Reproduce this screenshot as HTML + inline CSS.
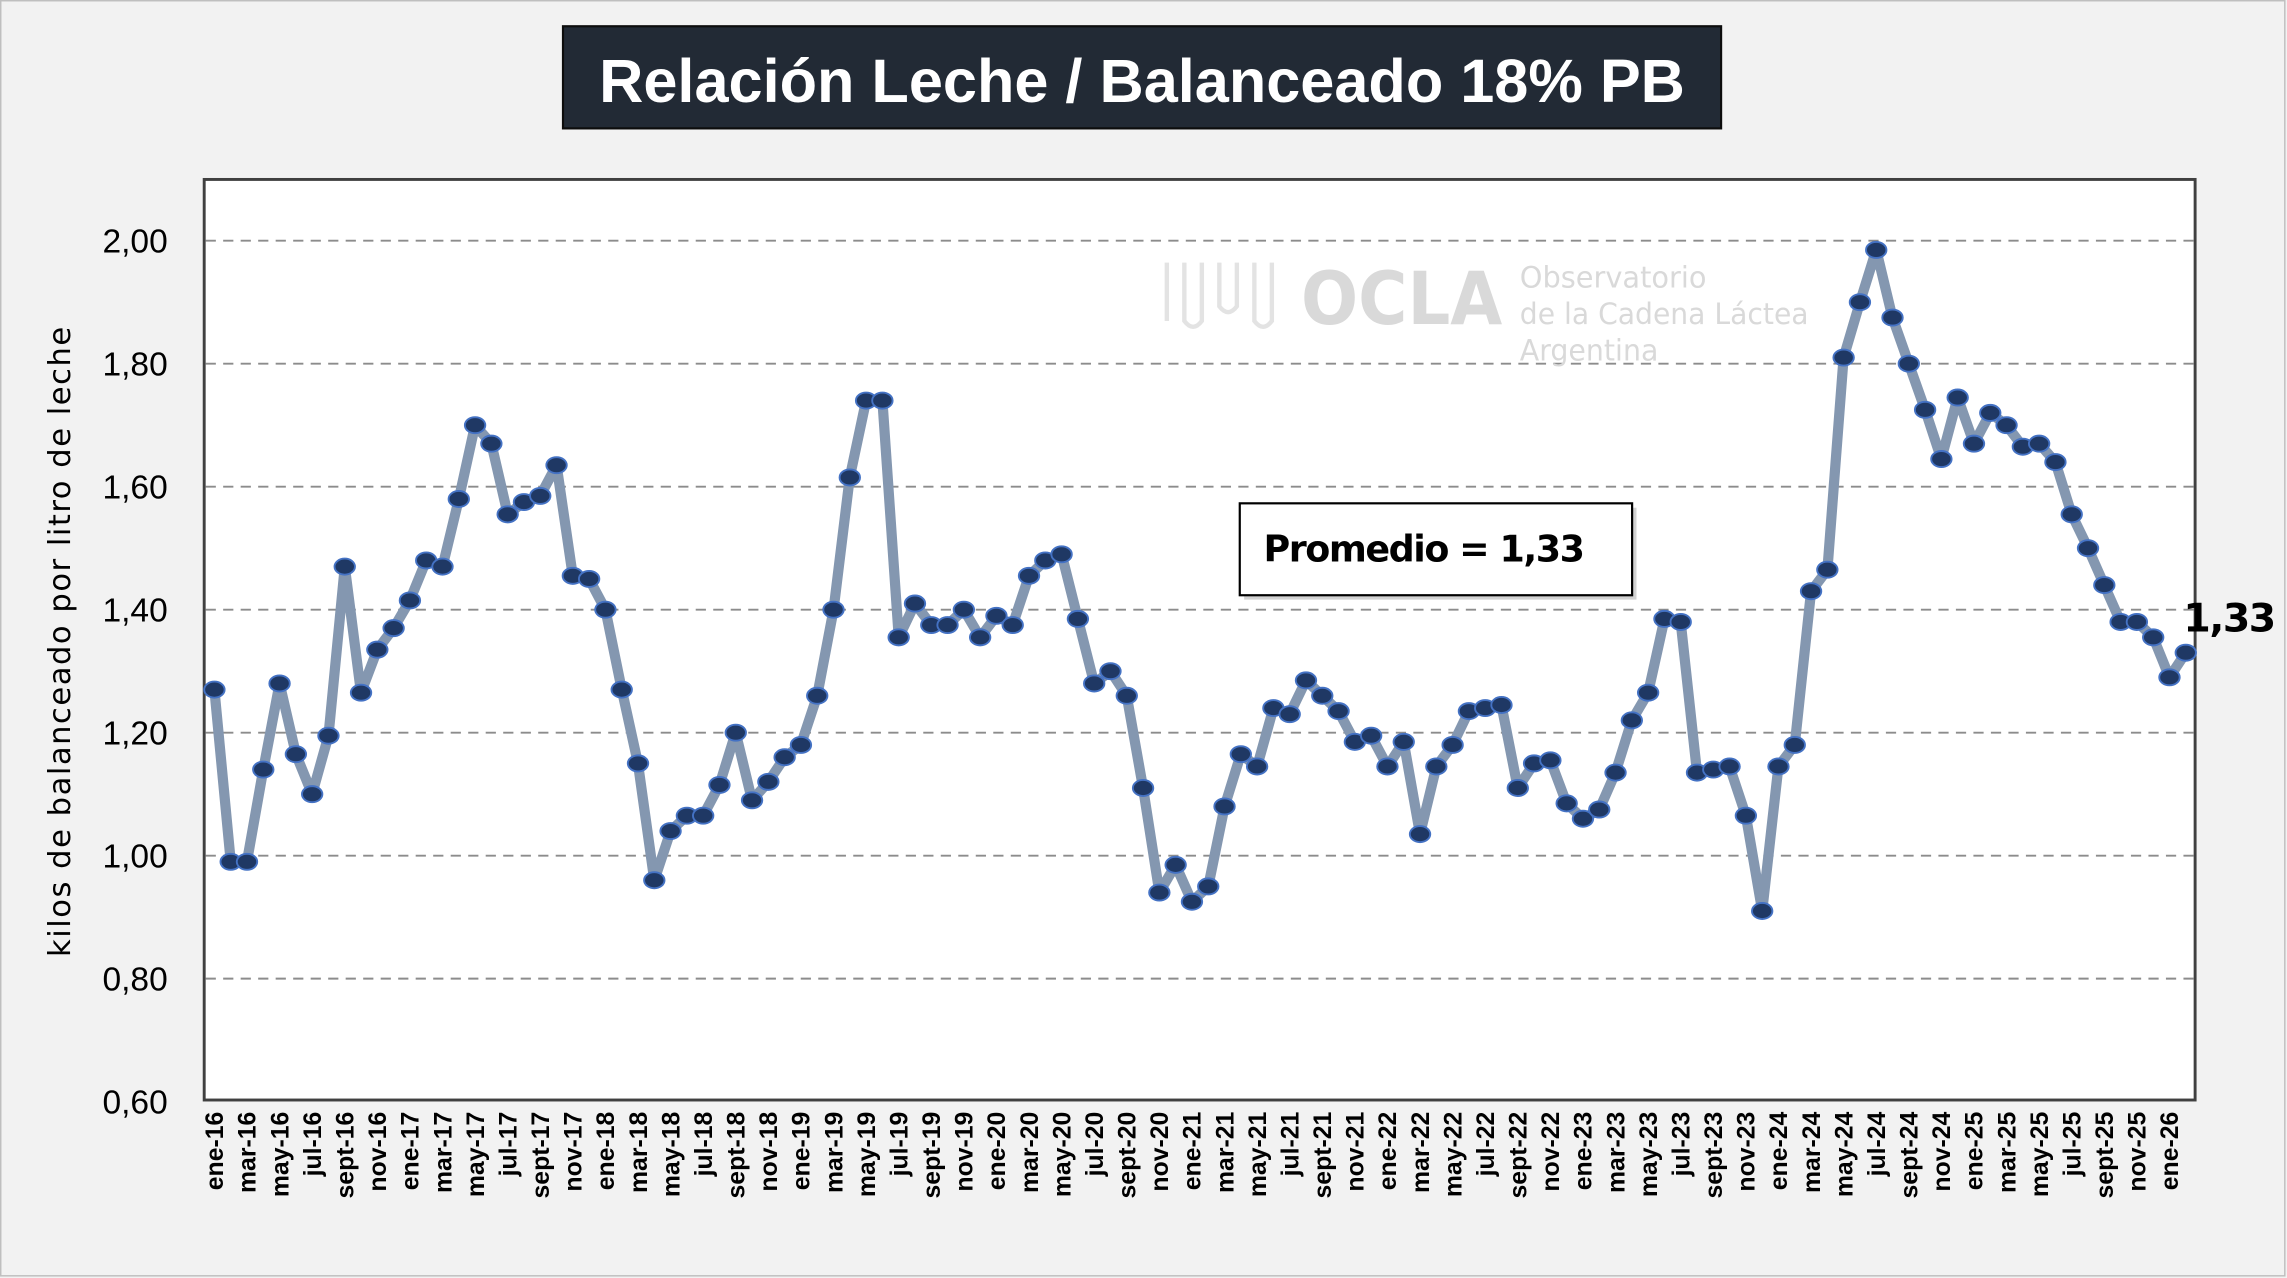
<!DOCTYPE html>
<html><head><meta charset="utf-8"><style>
html,body{margin:0;padding:0;background:#f2f2f2;}
svg{display:block;}
</style></head><body>
<svg id="chart" width="2287" height="1278" viewBox="0 0 1568 876" preserveAspectRatio="none" xmlns="http://www.w3.org/2000/svg">
  <rect x="0.5" y="0.5" width="1566" height="874" fill="#f2f2f2" stroke="#bfbfbf" stroke-width="1"/>
  <g>
    <rect x="386" y="18" width="794" height="70" fill="#222a35" stroke="#0d0d0d" stroke-width="1.5"/>
    <text x="783" y="70" text-anchor="middle" font-family="Liberation Sans, sans-serif" font-weight="bold" font-size="42" fill="#ffffff">Relación Leche / Balanceado 18% PB</text>
  </g>
  <rect x="140" y="123" width="1365" height="631" fill="#ffffff" stroke="#404040" stroke-width="2"/>
  <g id="grid"></g>
  <g fill="#d9d9d9" font-family="DejaVu Sans, sans-serif">
    <path d="M800 180 v40 M812 180 v40 q6 8 12 0 v-40 M836 180 v30 q6 8 12 0 v-30 M860 180 v40 q6 8 12 0 v-40" stroke="#e3e3e3" stroke-width="3" fill="none"/>
    <text x="892" y="222" font-size="50" font-weight="bold" textLength="138" lengthAdjust="spacingAndGlyphs">OCLA</text>
    <text x="1042" y="197" font-size="20" textLength="128" lengthAdjust="spacingAndGlyphs">Observatorio</text>
    <text x="1042" y="222" font-size="20" textLength="198" lengthAdjust="spacingAndGlyphs">de la Cadena Láctea</text>
    <text x="1042" y="247" font-size="20" textLength="95" lengthAdjust="spacingAndGlyphs">Argentina</text>
  </g>
  <g id="yticks"></g>
  <g id="xticks"></g>
  <text transform="translate(48,440) rotate(-90)" text-anchor="middle" font-family="DejaVu Sans, sans-serif" font-size="21" fill="#000" textLength="432" lengthAdjust="spacing">kilos de balanceado por litro de leche</text>
  <g id="series"></g>
  <g>
    <rect x="853" y="348" width="269" height="63" fill="#7f7f7f" opacity="0.35"/>
    <rect x="850" y="345" width="269" height="63" fill="#ffffff" stroke="#000" stroke-width="1.5"/>
    <text x="976" y="385" text-anchor="middle" font-family="DejaVu Sans, sans-serif" font-weight="bold" font-size="25" letter-spacing="-1" fill="#000">Promedio = 1,33</text>
  </g>
  <text id="lastlabel" x="1497" y="433" font-family="DejaVu Sans, sans-serif" font-weight="bold" font-size="27" letter-spacing="-1" fill="#000">1,33</text>
</svg>
<script>
const values = [1.27,0.99,0.99,1.14,1.28,1.165,1.10,1.195,1.47,1.265,1.335,1.37,
1.415,1.48,1.47,1.58,1.70,1.67,1.555,1.575,1.585,1.635,1.455,1.45,
1.40,1.27,1.15,0.96,1.04,1.065,1.065,1.115,1.20,1.09,1.12,1.16,
1.18,1.26,1.40,1.615,1.74,1.74,1.355,1.41,1.375,1.375,1.40,1.355,
1.39,1.375,1.455,1.48,1.49,1.385,1.28,1.30,1.26,1.11,0.94,0.985,
0.925,0.95,1.08,1.165,1.145,1.24,1.23,1.285,1.26,1.235,1.185,1.195,
1.145,1.185,1.035,1.145,1.18,1.235,1.24,1.245,1.11,1.15,1.155,1.085,
1.06,1.075,1.135,1.22,1.265,1.385,1.38,1.135,1.14,1.145,1.065,0.91,
1.145,1.18,1.43,1.465,1.81,1.90,1.985,1.875,1.80,1.725,1.645,1.745,
1.67,1.72,1.70,1.665,1.67,1.64,1.555,1.50,1.44,1.38,1.38,1.355,
1.29,1.33];
const monthNames = ["ene","feb","mar","abr","may","jun","jul","ago","sept","oct","nov","dic"];
const startYear = 16;
const yTicks = [0.6,0.8,1.0,1.2,1.4,1.6,1.8,2.0];
const yTickLabels = ["0,60","0,80","1,00","1,20","1,40","1,60","1,80","2,00"];

const NS = "http://www.w3.org/2000/svg";
const x0 = 147, x1 = 1498.6;
function xs(i){ return x0 + i*(x1-x0)/(values.length-1); }
function ys(v){ return 165 + (2.0 - v)/0.2*84.3; }
function mk(tag, attrs, parent){
  const e = document.createElementNS(NS, tag);
  for (const k in attrs) e.setAttribute(k, attrs[k]);
  parent.appendChild(e); return e;
}
const grid = document.getElementById('grid');
const yt = document.getElementById('yticks');
yTicks.forEach((t,i)=>{
  if (t > 0.6) {
    const l = mk('line',{x1:141,x2:1504,y1:ys(t),y2:ys(t),stroke:'#8c8c8c','stroke-width':1.3,'stroke-dasharray':'7,5'},grid);
    
    
  }
  const tx = mk('text',{x:115,y:ys(t)+8,'text-anchor':'end','font-family':'Liberation Sans, sans-serif','font-size':23,fill:'#000'},yt);
  tx.textContent = yTickLabels[i];
  
  
});
const xt = document.getElementById('xticks');
for (let i=0;i<values.length;i+=2){
  const m = i%12, yr = startYear + Math.floor(i/12);
  const tx = mk('text',{transform:`translate(${xs(i)+6},762) rotate(-90)`,'text-anchor':'end','font-family':'Liberation Sans, sans-serif','font-weight':'bold','font-size':17,fill:'#000'},xt);
  tx.textContent = monthNames[m] + '-' + yr;
  
  
}
const s = document.getElementById('series');
const pts = values.map((v,i)=>xs(i).toFixed(1)+','+ys(v).toFixed(1)).join(' ');
const pl = mk('polyline',{points:pts,fill:'none',stroke:'#8497b0','stroke-width':7,'stroke-linejoin':'round'},s);


values.forEach((v,i)=>{
  const c = mk('ellipse',{cx:xs(i),cy:ys(v),rx:7,ry:5.5,fill:'#1f3864',stroke:'#4472c4','stroke-width':1.3},s);
  
  
});
</script>
</body></html>
